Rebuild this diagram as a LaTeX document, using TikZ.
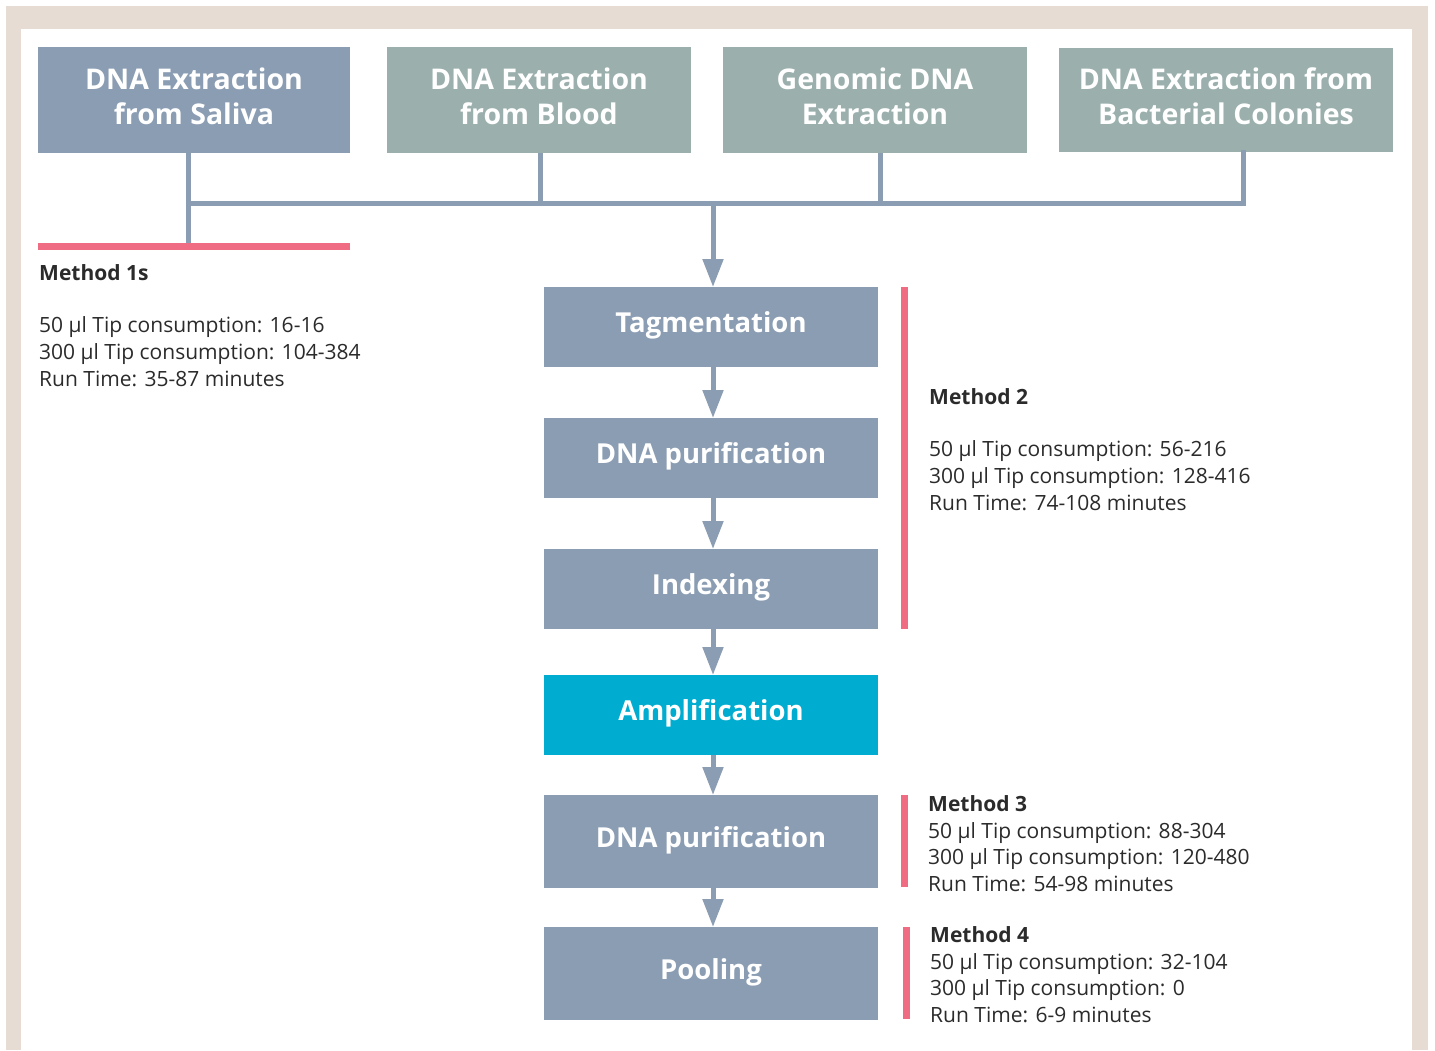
\documentclass[tikz,border=0pt]{standalone}
\usepackage{fontspec}
\setmainfont{Open Sans}
\usetikzlibrary{arrows.meta}
\definecolor{bluegray}{HTML}{8B9DB3}
\definecolor{greengray}{HTML}{9BB0AD}
\definecolor{cyanbox}{HTML}{00ACCF}
\definecolor{pinkbar}{HTML}{F06C82}
\definecolor{beige}{HTML}{E6DCD3}
\definecolor{txt}{HTML}{2B2B2B}
\newcommand{\twoln}[2]{\raisebox{4pt}{\begin{tabular}{@{}c@{}}#1\\#2\end{tabular}}}
\newcommand{\oneln}[1]{\raisebox{1.5pt}[\height][\depth]{#1}}
\begin{document}
\begin{tikzpicture}[x=1pt,y=-1pt,
  boxbase/.style={inner sep=0pt,outer sep=0pt,text=white,font=\fontsize{28.5}{35}\selectfont\bfseries},
  topbox/.style={boxbase,minimum height=106pt},
  stepbox/.style={boxbase,fill=bluegray,minimum width=334pt,font=\fontsize{27.5}{35}\selectfont\bfseries},
  conn/.style={draw=bluegray,line width=5pt},
  arr/.style={conn,-{Triangle[width=20pt,length=28pt]}},
  pbar/.style={draw=pinkbar,line width=7pt},
  info/.style={anchor=base west,inner sep=0pt,text=txt,font=\fontsize{21}{26}\selectfont},
  infob/.style={info,font=\fontsize{21}{26}\selectfont\bfseries}]
\useasboundingbox (0,0) rectangle (1435,1050);
\fill[white] (0,0) rectangle (1435,1050);
\fill[beige] (6,6) rectangle (1428,1050);
\fill[white] (21,29) rectangle (1412,1050);
% top boxes
\node[topbox,fill=bluegray,minimum width=312pt] (saliva) at (194,100) {\twoln{DNA Extraction}{from Saliva}};
\node[topbox,fill=greengray,minimum width=304pt] (blood) at (539,100) {\twoln{DNA Extraction}{from Blood}};
\node[topbox,fill=greengray,minimum width=304pt] (genomic) at (875,100) {\twoln{Genomic DNA}{Extraction}};
\node[topbox,fill=greengray,minimum width=334pt,minimum height=104pt] (bact) at (1226,100) {\twoln{DNA Extraction from}{Bacterial Colonies}};
% steps
\node[stepbox,minimum height=80pt] (tag) at (711,327) {\oneln{Tagmentation}};
\node[stepbox,minimum height=80pt] (pur1) at (711,458) {\oneln{DNA purification}};
\node[stepbox,minimum height=80pt] (idx) at (711,589) {\oneln{Indexing}};
\node[stepbox,fill=cyanbox,minimum height=80pt] (amp) at (711,715) {\oneln{Amplification}};
\node[stepbox,minimum height=93pt] (pur2) at (711,841.5) {\oneln{DNA purification}};
\node[stepbox,minimum height=93pt] (pool) at (711,973.5) {\oneln{Pooling}};
% connectors
\coordinate (hl) at (188,203);
\coordinate (hr) at (1243,203);
\coordinate (hm) at (713,203);
\coordinate (sb) at (188,243);
\draw[conn] (saliva.south -| hl) -- (sb);
\draw[conn] (blood.south -| 540,0) -- (540,203);
\draw[conn] (genomic.south -| 880,0) -- (880,203);
\draw[conn,line cap=rect] (bact.south -| hr) -- (hr) -- (hl);
\draw[arr] (hm) -- (tag.north -| hm);
\draw[arr] (tag.south -| hm) -- (pur1.north -| hm);
\draw[arr] (pur1.south -| hm) -- (idx.north -| hm);
\draw[arr] (idx.south -| hm) -- (amp.north -| hm);
\draw[arr] (amp.south -| hm) -- (pur2.north -| hm);
\draw[arr] (pur2.south -| hm) -- (pool.north -| hm);
% pink bars
\draw[pbar] (38,246) -- (350,246);
\draw[pbar] (904,287) -- (904,629);
\draw[pbar] (904,795) -- (904,887);
\draw[pbar] (906,927) -- (906,1019);
% method texts
\node[infob] (m1) at (39,280) {Method 1s};
\node[info] (m1a) at (39,332) {50 µl Tip consumption: 16-16};
\node[info] (m1b) at (39,359) {300 µl Tip consumption: 104-384};
\node[info] (m1c) at (39,386) {Run Time: 35-87 minutes};
\node[infob] (m2) at (929,404) {Method 2};
\node[info] (m2a) at (929,456) {50 µl Tip consumption: 56-216};
\node[info] (m2b) at (929,483) {300 µl Tip consumption: 128-416};
\node[info] (m2c) at (929,510) {Run Time: 74-108 minutes};
\node[infob] (m3) at (928,811) {Method 3};
\node[info] (m3a) at (928,838) {50 µl Tip consumption: 88-304};
\node[info] (m3b) at (928,864) {300 µl Tip consumption: 120-480};
\node[info] (m3c) at (928,891) {Run Time: 54-98 minutes};
\node[infob] (m4) at (930,942) {Method 4};
\node[info] (m4a) at (930,969) {50 µl Tip consumption: 32-104};
\node[info] (m4b) at (930,995) {300 µl Tip consumption: 0};
\node[info] (m4c) at (930,1022) {Run Time: 6-9 minutes};
\end{tikzpicture}
\end{document}
